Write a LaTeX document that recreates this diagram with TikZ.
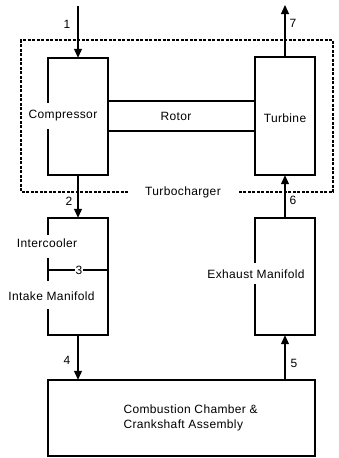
\documentclass[tikz,border=0pt]{standalone}
\usepackage{fontspec}
\setmainfont{Liberation Sans}[LetterSpace=3]
\usetikzlibrary{arrows.meta,calc}
\begin{document}
\begin{tikzpicture}[x=1pt,y=-1pt,
  every node/.style={font=\fontsize{12}{15}\selectfont},
  blk/.style={rectangle,inner sep=0pt},
  edge/.style={line width=1.8pt,line cap=rect,line join=miter},
  flow/.style={line width=1.2pt,-{Triangle[length=9pt,width=8pt]}},
  dbox/.style={line width=1.2pt,dash pattern=on 3pt off 1.5pt},
  lbl/.style={inner sep=1pt}]
\useasboundingbox (0,0) rectangle (338,458);
% blocks (geometry)
\node[blk,minimum width=60pt,minimum height=117pt] (comp) at (78,116.5) {};
\node[blk,minimum width=60pt,minimum height=118pt] (turb) at (285,116) {};
\node[blk,minimum width=60pt,minimum height=117pt] (intk) at (78,276.5) {};
\node[blk,minimum width=60pt,minimum height=117pt] (exh) at (285,276.5) {};
\node[blk,minimum width=267pt,minimum height=76pt] (comb) at (181.5,418) {};
% dashed turbocharger boundary
\draw[dbox] (128,192) -- (21,192) -- (21,40) -- (333,40) -- (333,192) -- (238,192);
\node (tc) at (183,192) {Turbocharger};
% compressor
\draw[edge] ($(comp.north west)+(0,44)$) -- (comp.north west) -- (comp.north east)
  -- (comp.south east) -- (comp.south west) -- ($(comp.south west)+(0,-45)$);
\node (ct) at (63,116) {Compressor};
% turbine
\draw[edge] (turb.north west) rectangle (turb.south east);
\node (tt) at (285,118) {Turbine};
% rotor
\draw[edge] (comp.east |- 0,101) -- (turb.west |- 0,101);
\draw[edge] (comp.east |- 0,131) -- (turb.west |- 0,131);
\node (rt) at (176,116) {Rotor};
% intercooler / intake manifold
\draw[edge] ($(intk.north west)+(0,16)$) -- (intk.north west) -- (intk.north east)
  -- (intk.south east) -- (intk.south west) -- ($(intk.south west)+(0,-25)$);
\draw[edge] (48,259) -- (48,280);
\node[lbl] (n3) at (79,270) {3};
\draw[edge] (48,270) -- (n3.west);
\draw[edge] (n3.east) -- (intk.east |- n3.east);
\node (ic) at (47,243) {Intercooler};
\node (im) at (51.5,296) {Intake Manifold};
% exhaust manifold
\draw[edge] ($(exh.north west)+(0,44)$) -- (exh.north west) -- (exh.north east)
  -- (exh.south east) -- (exh.south west) -- ($(exh.south west)+(0,-50)$);
\node (em) at (256,274) {Exhaust Manifold};
% combustion
\draw[edge] (comb.north west) rectangle (comb.south east);
\node[align=left,anchor=west] (cc) at (120,418) {Combustion Chamber \&\\Crankshaft Assembly};
% flows
\coordinate (in1) at (78,6);
\coordinate (out7) at (285,5);
\draw[flow] (in1) -- (comp.north);
\draw[flow] (comp.south) -- (intk.north);
\draw[flow] (intk.south) -- (intk.south |- comb.north);
\draw[flow] (exh.south |- comb.north) -- (exh.south);
\draw[flow] (exh.north) -- (turb.south);
\draw[flow] (turb.north) -- (out7);
\node (l1) at (67,24) {1};
\node (l2) at (69,201) {2};
\node (l4) at (67,360) {4};
\node (l5) at (294,363) {5};
\node (l6) at (293,200) {6};
\node (l7) at (293,23) {7};
\end{tikzpicture}
\end{document}
